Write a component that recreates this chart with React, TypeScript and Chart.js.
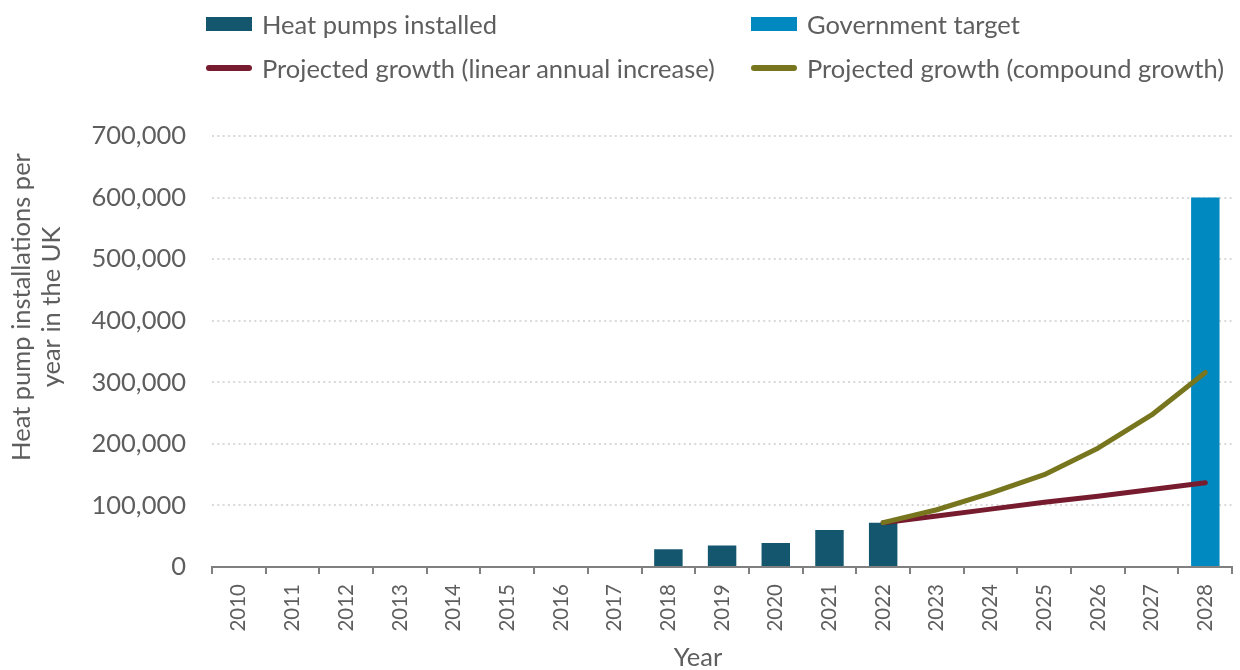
import { useEffect, useRef } from "react";
import { Chart, registerables } from "chart.js";

Chart.register(...registerables);

// Years on the category axis
const years = [
  "2010", "2011", "2012", "2013", "2014", "2015", "2016", "2017", "2018",
  "2019", "2020", "2021", "2022", "2023", "2024", "2025", "2026", "2027", "2028",
];

// Heat pumps installed per year (actuals)
const installed = [
  null, null, null, null, null, null, null, null,
  29000, 35000, 39000, 60000, 72000,
  null, null, null, null, null, null,
];

// Government target for 2028
const governmentTarget = [
  null, null, null, null, null, null, null, null, null, null,
  null, null, null, null, null, null, null, null, 600000,
];

// Projection: linear annual increase from 2022
const linearGrowth = [
  null, null, null, null, null, null, null, null, null, null, null, null,
  72000, 83000, 94000, 105000, 115000, 126000, 137000,
];

// Projection: compound growth from 2022
const compoundGrowth = [
  null, null, null, null, null, null, null, null, null, null, null, null,
  72000, 93000, 120000, 150000, 193000, 247000, 316000,
];

const yMax = 700000;
const yStep = 100000;

const COLORS = {
  installed: "#15566F",
  target: "#0089C1",
  linear: "#771B2F",
  compound: "#77761F",
};

const legendItems = [
  { label: "Heat pumps installed", color: COLORS.installed, kind: "bar" },
  { label: "Government target", color: COLORS.target, kind: "bar" },
  { label: "Projected growth (linear annual increase)", color: COLORS.linear, kind: "line" },
  { label: "Projected growth (compound growth)", color: COLORS.compound, kind: "line" },
];

const FONT = "Lato, 'Open Sans', sans-serif";
const TEXT = "#5E5E5E";
const WEIGHT = "400";

// Axis titles drawn on the canvas after the chart
const axisTitles = {
  id: "axisTitles",
  afterDraw(chart: any) {
    const { ctx } = chart;
    ctx.save();
    ctx.fillStyle = TEXT;
    ctx.font = `${WEIGHT} 25.5px ${FONT}`;
    ctx.textAlign = "center";
    ctx.textBaseline = "middle";
    const cy = 307;
    ctx.save();
    ctx.translate(22, cy);
    ctx.rotate(-Math.PI / 2);
    ctx.fillText("Heat pump installations per", 0, 0);
    ctx.restore();
    ctx.save();
    ctx.translate(52, cy);
    ctx.rotate(-Math.PI / 2);
    ctx.fillText("year in the UK", 0, 0);
    ctx.restore();
    ctx.fillText("Year", 698, 658);
    ctx.restore();
  },
};

function Legend() {
  return (
    <div
      style={{
        position: "absolute",
        left: 206,
        top: 2,
        display: "grid",
        gridTemplateColumns: "545px auto",
        gridAutoRows: "44px",
        fontFamily: FONT,
        fontWeight: Number(WEIGHT),
        fontSize: 25.5,
        color: TEXT,
        lineHeight: "32px",
      }}
    >
      {legendItems.map((it) => (
        <div key={it.label} style={{ display: "flex", alignItems: "center", whiteSpace: "nowrap" }}>
          <span
            style={{
              display: "inline-block",
              flex: "none",
              width: 46,
              height: it.kind === "bar" ? 14 : 6,
              borderRadius: it.kind === "bar" ? 0 : 3,
              background: it.color,
              marginRight: 10,
            }}
          />
          <span>{it.label}</span>
        </div>
      ))}
    </div>
  );
}

export default function App() {
  const canvasRef = useRef<HTMLCanvasElement | null>(null);

  useEffect(() => {
    const canvas = canvasRef.current;
    if (!canvas) return;
    const chart = new Chart(canvas, {
      type: "bar",
      data: {
        labels: years,
        datasets: [
          {
            type: "line",
            label: "Projected growth (compound growth)",
            data: compoundGrowth,
            borderColor: COLORS.compound,
            backgroundColor: COLORS.compound,
            borderWidth: 5,
            borderCapStyle: "round",
            borderJoinStyle: "round",
            pointRadius: 0,
            tension: 0,
            order: 0,
          },
          {
            type: "line",
            label: "Projected growth (linear annual increase)",
            data: linearGrowth,
            borderColor: COLORS.linear,
            backgroundColor: COLORS.linear,
            borderWidth: 5,
            borderCapStyle: "round",
            borderJoinStyle: "round",
            pointRadius: 0,
            tension: 0,
            order: 1,
          },
          {
            type: "bar",
            label: "Heat pumps installed",
            data: installed,
            backgroundColor: COLORS.installed,
            barPercentage: 0.53,
            categoryPercentage: 1,
            grouped: false,
            order: 2,
          },
          {
            type: "bar",
            label: "Government target",
            data: governmentTarget,
            backgroundColor: COLORS.target,
            barPercentage: 0.53,
            categoryPercentage: 1,
            grouped: false,
            order: 3,
          },
        ],
      } as any,
      options: {
        animation: false,
        responsive: false,
        devicePixelRatio: 1,
        layout: { padding: { top: 136, right: 3, bottom: 0, left: 0 } },
        plugins: {
          legend: { display: false },
          tooltip: { enabled: false },
        },
        scales: {
          x: {
            offset: true,
            grid: {
              offset: true,
              drawOnChartArea: false,
              drawTicks: true,
              tickLength: 7,
              color: "#808080",
              lineWidth: 2,
            },
            border: { display: true, color: "#808080", width: 2 },
            ticks: {
              autoSkip: false,
              maxRotation: 90,
              minRotation: 90,
              padding: 10,
              color: TEXT,
              font: { family: FONT, size: 20.5, weight: WEIGHT },
            },
            afterFit(scale: any) {
              scale.height = 103;
            },
          },
          y: {
            min: 0,
            max: yMax,
            ticks: {
              stepSize: yStep,
              padding: 26,
              color: TEXT,
              font: { family: FONT, size: 25.5, weight: WEIGHT },
              callback: (v: any) => Number(v).toLocaleString("en-GB"),
            },
            grid: { color: "#D9D9D9", lineWidth: 2, drawTicks: false },
            border: { display: false, dash: [2, 3.3] },
            afterFit(scale: any) {
              scale.width = 212;
            },
          },
        },
      } as any,
      plugins: [axisTitles],
    });
    return () => chart.destroy();
  }, []);

  return (
    <div
      style={{
        position: "fixed",
        left: 0,
        top: 0,
        width: 1240,
        height: 670,
        background: "#fff",
      }}
    >
      <canvas ref={canvasRef} width={1240} height={670} style={{ display: "block" }} />
      <Legend />
    </div>
  );
}
